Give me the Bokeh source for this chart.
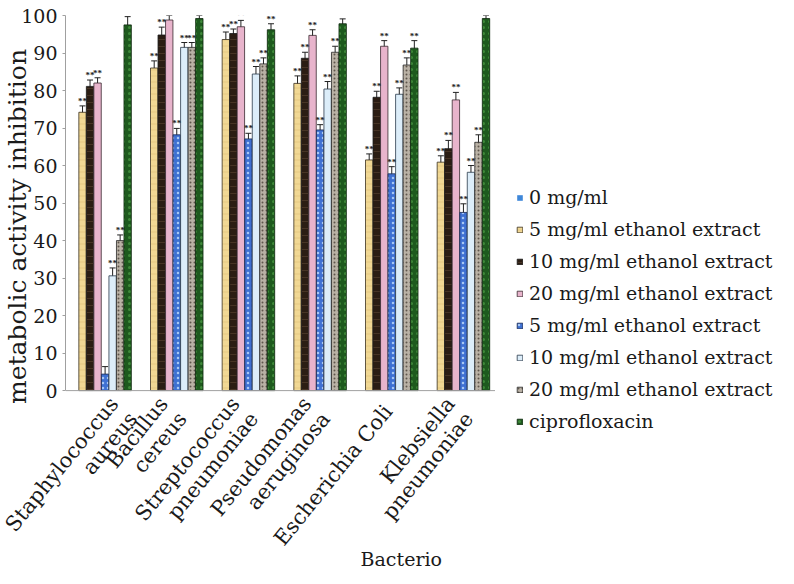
import math
from bokeh.plotting import figure
from bokeh.layouts import row
from bokeh.models import (ColumnDataSource, FactorRange, Range1d, FixedTicker, Whisker,
                          TeeHead, LabelSet, Legend, LegendItem, Span)
from bokeh.transform import dodge
from bokeh.embed import file_html
from bokeh.resources import INLINE

categories = ["Staphylococcus\naureus", "Bacillus\ncereus", "Streptococcus\npneumoniae",
              "Pseudomonas\naeruginosa", "Escherichia Coli", "Klebsiella\npneumoniae"]

series_names = ["0 mg/ml", "5 mg/ml ethanol extract", "10 mg/ml ethanol extract",
                "20 mg/ml ethanol extract", "5 mg/ml ethanol extract ",
                "10 mg/ml ethanol extract ", "20 mg/ml ethanol extract ", "ciprofloxacin"]

zero_mg = [0, 0, 0, 0, 0, 0]
eth5 = [74.2, 86.0, 93.6, 81.9, 61.5, 60.9]
eth10 = [81.1, 94.8, 95.2, 88.6, 78.2, 64.5]
eth20 = [82.0, 98.8, 97.0, 94.7, 91.8, 77.5]
blue5 = [4.4, 68.2, 67.1, 69.5, 57.8, 47.5]
light10 = [30.6, 91.5, 84.4, 80.4, 79.0, 58.2]
gray20 = [40.0, 91.5, 87.1, 90.2, 86.8, 66.2]
cipro = [97.5, 99.2, 96.2, 97.8, 91.3, 99.2]

eth5_err = [1.7, 1.9, 2.0, 2.0, 1.6, 1.7]
eth10_err = [1.7, 2.1, 1.2, 1.6, 1.6, 2.2]
eth20_err = [1.4, 1.2, 1.7, 1.5, 1.5, 2.0]
blue5_err = [2.0, 1.7, 1.5, 1.4, 1.9, 2.3]
light10_err = [2.1, 1.3, 2.0, 2.0, 1.7, 1.8]
gray20_err = [1.5, 1.3, 1.6, 1.6, 1.9, 2.0]
cipro_err = [2.2, 0.8, 1.6, 1.3, 2.0, 0.8]

eth5_sig = ["**"] * 6
eth10_sig = ["**"] * 6
eth20_sig = ["**"] * 6
blue5_sig = ["", "**", "**", "**", "**", "**"]
light10_sig = ["**"] * 6
gray20_sig = ["**"] * 6
cipro_sig = ["**"] * 6

y_ticks = [0, 10, 20, 30, 40, 50, 60, 70, 80, 90, 100]

values = [zero_mg, eth5, eth10, eth20, blue5, light10, gray20, cipro]
errors = [None, eth5_err, eth10_err, eth20_err, blue5_err, light10_err, gray20_err, cipro_err]
sigs = [None, eth5_sig, eth10_sig, eth20_sig, blue5_sig, light10_sig, gray20_sig, cipro_sig]

styles = [
    dict(fill_color="#3f87d9", line_color=None, hatch_pattern=None),
    dict(fill_color="#f1d894", line_color="#3a3020", hatch_pattern="horizontal_line",
         hatch_color="#d8b870", hatch_scale=6, hatch_alpha=0.5),
    dict(fill_color="#2b1d13", line_color="#1a1a1a", hatch_pattern="horizontal_line",
         hatch_color="#5a4330", hatch_scale=7, hatch_alpha=0.6),
    dict(fill_color="#e8b4cc", line_color="#3a2a30", hatch_pattern=None),
    dict(fill_color="#3e70d2", line_color="#1a2a50", hatch_pattern="dot",
         hatch_color="#a8c8f4", hatch_scale=5, hatch_weight=1.5),
    dict(fill_color="#dcedf9", line_color="#2a3a4a", hatch_pattern=None),
    dict(fill_color="#b9b1a5", line_color="#2a2a2a", hatch_pattern="dot",
         hatch_color="#5e564c", hatch_scale=4, hatch_weight=1.2),
    dict(fill_color="#1e5a1e", line_color="#0f2a0f", hatch_pattern="dot",
         hatch_color="#3f8a3a", hatch_scale=6, hatch_weight=2),
]


def bar_kw(st):
    st = dict(st)
    hp = st.pop("hatch_pattern")
    kw = dict(fill_color=st.pop("fill_color"), line_color=st.pop("line_color"), line_width=0.8)
    if hp:
        kw["hatch_pattern"] = hp
        kw.update(st)
    return kw


# frame extends a little below 0 so the legend panel next to it has room
p = figure(width=495, height=572, x_range=FactorRange(factors=categories, range_padding=0),
           y_range=Range1d(-12.5, 100), output_backend="svg", toolbar_location=None,
           min_border_left=60, min_border_right=0, min_border_top=15, min_border_bottom=135)
p.outline_line_color = None
p.xgrid.visible = False
p.ygrid.visible = False

q = figure(width=283, height=572, x_range=FactorRange(factors=categories),
           y_range=Range1d(0, 100), output_backend="svg", toolbar_location=None,
           x_axis_location=None, y_axis_location=None, min_border=0)
q.outline_line_color = None
q.xgrid.visible = False
q.ygrid.visible = False

n = len(values)
w = 0.105
items = []
for i in range(n):
    off = (i - (n - 1) / 2) * w
    data = dict(cat=categories, top=values[i])
    if errors[i] is not None:
        data["lower"] = [v - e for v, e in zip(values[i], errors[i])]
        data["upper"] = [v + e for v, e in zip(values[i], errors[i])]
        data["sig"] = sigs[i]
    src = ColumnDataSource(data)
    p.vbar(x=dodge("cat", off, range=p.x_range), top="top", width=w * 0.98, bottom=0,
           source=src, **bar_kw(styles[i]))
    rq = q.vbar(x="cat", top="top", width=0.1, bottom=0, source=src, visible=False,
                **bar_kw(styles[i]))
    items.append(LegendItem(label=series_names[i], renderers=[rq]))
    if errors[i] is not None:
        wh = Whisker(source=src, base=dodge("cat", off, range=p.x_range), lower="lower",
                     upper="upper", line_color="#222222", line_width=1,
                     upper_head=TeeHead(size=6, line_color="#222222", line_width=1),
                     lower_head=TeeHead(size=6, line_color="#222222", line_width=1))
        p.add_layout(wh)
        lab = LabelSet(x=dodge("cat", off, range=p.x_range), y="upper", text="sig", source=src,
                       text_align="center", text_baseline="bottom", y_offset=0,
                       text_font_size="9px", text_font_style="bold", text_color="#222222",
                       text_font="DejaVu Sans")
        p.add_layout(lab)

# baseline of the bars (x axis line)
p.add_layout(Span(location=0, dimension="width", line_color="#a0a0a0", line_width=1))

# y axis
p.yaxis.ticker = FixedTicker(ticks=y_ticks)
p.yaxis.bounds = (0, 100)
p.yaxis.axis_label = "metabolic activity inhibition"
p.yaxis.axis_label_text_font = "DejaVu Serif"
p.yaxis.axis_label_text_font_size = "25px"
p.yaxis.axis_label_text_font_style = "normal"
p.yaxis.axis_label_text_color = "#1a1a1a"
p.yaxis.axis_label_standoff = -14
p.yaxis.major_label_text_font = "DejaVu Serif"
p.yaxis.major_label_text_font_size = "19px"
p.yaxis.major_label_text_color = "#1a1a1a"
p.yaxis.major_label_standoff = 5
p.yaxis.axis_line_color = "#a0a0a0"
p.yaxis.major_tick_line_color = "#a0a0a0"
p.yaxis.major_tick_out = 3
p.yaxis.major_tick_in = 0
p.yaxis.minor_tick_line_color = None

# category labels: axis at the frame bottom, labels pulled up under the baseline
p.xaxis.axis_line_color = None
p.xaxis.major_tick_line_color = None
p.xaxis.minor_tick_line_color = None
p.xaxis.major_tick_out = 0
p.xaxis.major_tick_in = 0
p.xaxis.major_label_text_font = "DejaVu Serif"
p.xaxis.major_label_text_font_size = "21px"
p.xaxis.major_label_text_color = "#1a1a1a"
p.xaxis.major_label_text_line_height = 1.0
p.xaxis.major_label_orientation = math.radians(51)
p.xaxis.major_label_standoff = -30

# axis title, pushed right of the frame centre as in the original
p.xaxis.axis_label = "\u00a0" * 40 + "Bacterio"
p.xaxis.axis_label_text_font = "DejaVu Serif"
p.xaxis.axis_label_text_font_size = "19px"
p.xaxis.axis_label_text_font_style = "normal"
p.xaxis.axis_label_text_color = "#1a1a1a"
p.xaxis.axis_label_standoff = -22

legend = Legend(items=items, location=(21, 5), glyph_width=7, glyph_height=7,
                label_standoff=6, label_height=22, spacing=10, padding=0, margin=0,
                border_line_color=None, background_fill_alpha=0,
                inactive_fill_alpha=0,
                label_text_font="DejaVu Serif", label_text_font_size="19px",
                label_text_color="#1a1a1a")
q.add_layout(legend, "center")

layout = row(p, q)
open("out.html", "w").write(file_html(layout, INLINE))
